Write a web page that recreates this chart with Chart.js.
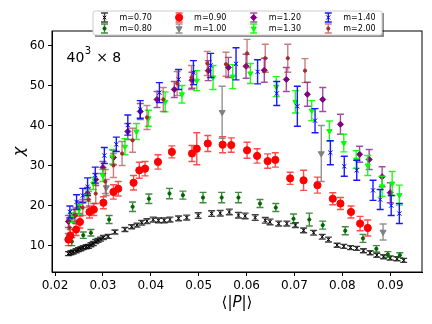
<!DOCTYPE html>
<html>
<head>
<meta charset="utf-8">
<script src="https://cdn.jsdelivr.net/npm/chart.js@4.4.1/dist/chart.umd.min.js"></script>
<style>
  html, body { margin: 0; padding: 0; background: #fff; }
  #wrap { width: 432px; height: 324px; position: relative; }
</style>
</head>
<body>
<div id="wrap"><canvas id="myChart" width="432" height="324"></canvas></div>
<script>
// values: <|P|> on x, chi on y, error half-height
const labels = ['m=0.70', 'm=0.80', 'm=0.90', 'm=1.00', 'm=1.20', 'm=1.30', 'm=1.40', 'm=2.00'];

const p070 = [0.0228,0.0233,0.0238,0.0244,0.0249,0.0254,0.0259,0.0265,0.0270,0.0275,0.0280,0.0285,0.0290,0.0295,0.0301,0.0311,0.0325,0.0346,0.0360,0.0371,0.0381,0.0392,0.0405,0.0416,0.0428,0.0440,0.0458,0.0475,0.0499,0.0527,0.0545,0.0564,0.0583,0.0597,0.0618,0.0639,0.0649,0.0667,0.0684,0.0702,0.0719,0.0740,0.0758,0.0771,0.0789,0.0803,0.0817,0.0830,0.0844,0.0858,0.0872,0.0886,0.0900,0.0914,0.0928];
const chi070 = [8.0,8.2,8.4,8.7,9.0,9.2,9.5,9.7,9.8,10.2,10.5,11.0,11.3,11.6,12.0,12.3,13.4,14.0,14.7,15.1,15.7,16.1,16.5,16.3,16.3,16.5,16.8,17.0,17.5,18.0,18.1,18.4,17.6,17.4,17.0,16.3,15.9,15.5,15.5,15.1,13.8,13.2,12.2,11.5,10.1,9.8,9.5,9.3,8.7,8.2,7.6,7.2,6.9,6.7,6.3];
const err070 = [0.5,0.5,0.5,0.5,0.5,0.5,0.5,0.5,0.5,0.5,0.5,0.5,0.5,0.5,0.5,0.5,0.5,0.5,0.5,0.5,0.6,0.6,0.6,0.6,0.6,0.6,0.6,0.6,0.7,0.7,0.7,0.7,0.7,0.7,0.7,0.7,0.7,0.6,0.6,0.6,0.6,0.6,0.6,0.6,0.5,0.5,0.5,0.5,0.5,0.5,0.5,0.5,0.5,0.5,0.5];

const p080 = [0.0235,0.0259,0.0275,0.0313,0.0362,0.0396,0.0439,0.0467,0.0509,0.0548,0.0583,0.0628,0.0661,0.0698,0.0731,0.0759,0.0806,0.0843,0.0871,0.0895,0.0920];
const chi080 = [11.0,12.6,13.2,16.5,19.7,21.7,23.0,22.6,22.0,22.0,22.0,20.5,19.5,16.7,16.5,15.1,13.7,11.8,9.2,7.8,7.6];
const err080 = [1.0,0.8,0.8,1.0,1.2,1.2,1.3,1.0,1.3,1.3,1.3,1.0,1.0,1.2,1.6,1.0,1.0,1.0,0.8,0.7,0.6];

const p090 = [0.0228,0.0232,0.0244,0.0252,0.0272,0.0281,0.0301,0.0322,0.0332,0.0364,0.0376,0.0388,0.0415,0.0444,0.0486,0.0496,0.0519,0.0550,0.0568,0.0601,0.0622,0.0644,0.0660,0.0691,0.0719,0.0748,0.0780,0.0796,0.0818,0.0837,0.0853];
const chi090 = [11.5,12.5,14.0,15.9,18.4,19.0,20.7,23.4,24.2,25.7,28.8,29.2,30.9,33.4,33.0,34.2,35.5,35.2,35.1,33.8,32.4,31.1,31.4,26.8,26.3,25.1,21.7,20.5,18.4,15.5,14.4];
const err090 = [1.5,1.5,1.5,1.5,1.5,1.5,1.5,1.8,1.8,1.8,2.0,1.8,1.8,1.5,2.0,4.0,2.0,2.0,1.8,2.0,1.8,1.8,1.8,1.5,2.5,2.0,1.5,1.5,1.5,1.8,2.0];

const p100 = [0.0307,0.0549,0.0756,0.0885];
const chi100 = [24.5,43.3,33.0,13.4];
const err100 = [2.0,6.5,7.0,2.0];

const p120 = [0.0228,0.0240,0.0250,0.0268,0.0285,0.0300,0.0322,0.0352,0.0378,0.0413,0.0449,0.0486,0.0520,0.0562,0.0599,0.0637,0.0683,0.0727,0.0759,0.0796,0.0836,0.0856,0.0883,0.0900];
const chi120 = [16.0,17.5,19.5,23.0,26.5,29.5,32.0,38.5,43.5,46.5,49.0,51.3,53.7,54.5,54.8,53.8,51.5,47.8,46.5,40.3,32.8,31.5,27.2,23.2];
const err120 = [1.5,1.5,1.5,1.5,1.5,1.5,1.8,2.0,2.0,2.0,2.0,2.0,2.5,2.5,3.0,3.0,3.0,3.0,3.0,2.5,2.0,2.5,2.5,2.5];

const p130 = [0.0235,0.0250,0.0268,0.0280,0.0300,0.0320,0.0346,0.0370,0.0395,0.0430,0.0465,0.0496,0.0530,0.0571,0.0608,0.0662,0.0702,0.0736,0.0773,0.0803,0.0829,0.0853,0.0883,0.0904,0.0919];
const chi130 = [17.0,19.0,22.5,25.5,27.5,32.2,34.7,38.5,41.8,45.9,47.8,51.2,52.0,52.2,53.0,49.7,45.9,43.7,38.6,35.6,31.5,30.0,24.8,25.5,22.6];
const err130 = [1.2,1.2,1.5,1.5,1.5,1.8,2.0,2.0,2.0,2.5,2.2,2.5,3.0,3.0,2.5,2.5,2.8,2.5,2.5,2.2,2.2,2.5,2.5,3.0,2.5];

const p140 = [0.0231,0.0245,0.0258,0.0268,0.0284,0.0303,0.0328,0.0352,0.0378,0.0418,0.0458,0.0489,0.0525,0.0578,0.0623,0.0663,0.0706,0.0743,0.0775,0.0804,0.0830,0.0864,0.0879,0.0902,0.0919];
const chi140 = [18.4,20.9,22.5,24.7,27.6,32.5,35.3,40.1,44.0,48.2,51.5,53.2,55.0,55.4,53.4,48.0,44.8,41.2,33.2,29.8,28.8,23.8,21.5,20.0,18.0];
const err140 = [1.5,1.8,1.8,2.2,2.0,2.0,1.8,2.5,2.2,2.5,2.5,3.0,3.0,4.0,3.0,3.0,5.0,3.0,3.0,2.5,2.5,2.5,2.5,2.5,2.5];

const p200 = [0.0230,0.0243,0.0258,0.0270,0.0285,0.0305,0.0322,0.0340,0.0362,0.0392,0.0426,0.0455,0.0485,0.0518,0.0557,0.0601,0.0639,0.0686,0.0722];
const chi200 = [14.5,17.5,19.5,21.5,23.0,26.0,30.0,33.0,36.3,42.0,46.5,50.5,52.0,55.5,55.3,58.0,56.8,56.8,53.7];
const err200 = [2.0,2.0,2.0,2.0,2.5,3.0,3.0,3.0,3.0,3.0,3.0,3.0,3.0,3.0,3.0,3.5,3.5,3.5,3.0];

const xTicks = [0.02, 0.03, 0.04, 0.05, 0.06, 0.07, 0.08, 0.09];
const yTicks = [10, 20, 30, 40, 50, 60];

Chart.defaults.font.family = 'DejaVu Sans';
Chart.defaults.color = '#000';

function series(label, xs, ys, errs, color, barColor, style, radius, rotation) {
    return {
        label: label,
        data: xs.map((x, i) => ({x: x, y: ys[i]})),
        errors: errs,
        barColor: barColor,
        backgroundColor: color,
        borderColor: color,
        pointStyle: style,
        pointRadius: radius,
        pointRotation: rotation || 0,
        pointBorderWidth: 1,
        showLine: false
    };
}

let datasets = [
    series(labels[0], p070, chi070, err070, '#000000', 'rgba(0,0,0,0.75)', 'crossRot', 2.5),
    series(labels[1], p080, chi080, err080, '#006400', 'rgba(0,100,0,0.75)', 'circle', 1.6),
    series(labels[2], p090, chi090, err090, '#ff0000', 'rgba(255,0,0,0.7)', 'circle', 3.6),
    series(labels[3], p100, chi100, err100, '#808080', 'rgba(128,128,128,0.85)', 'triangle', 3.5, 180),
    series(labels[4], p120, chi120, err120, '#800080', 'rgba(128,0,128,0.7)', 'rectRot', 3),
    series(labels[5], p130, chi130, err130, '#00ff00', 'rgba(0,255,0,0.9)', 'triangle', 3, 180),
    series(labels[6], p140, chi140, err140, '#0000ff', 'rgba(0,0,255,0.9)', 'crossRot', 3),
    series(labels[7], p200, chi200, err200, '#a52a2a', 'rgba(165,42,42,0.6)', 'circle', 1.6)
];
// later series on top, like matplotlib
datasets.forEach((d, i) => d.order = -i);

function drawBar(ctx, x, yTop, yBot, cap) {
    ctx.beginPath();
    ctx.moveTo(x, yTop); ctx.lineTo(x, yBot);
    ctx.moveTo(x - cap, yTop); ctx.lineTo(x + cap, yTop);
    ctx.moveTo(x - cap, yBot); ctx.lineTo(x + cap, yBot);
    ctx.stroke();
}

const errorBars = {
    id: 'errorBars',
    beforeDatasetDraw(chart, args) {
        const ds = chart.data.datasets[args.index];
        const xs = chart.scales.x, ys = chart.scales.y;
        const ctx = chart.ctx;
        const a = chart.chartArea;
        ctx.save();
        ctx.beginPath();
        ctx.rect(a.left, a.top, a.right - a.left, a.bottom - a.top);
        ctx.clip();
        ctx.strokeStyle = ds.barColor;
        ctx.lineWidth = 1.4;
        ds.data.forEach((pt, i) => {
            const px = xs.getPixelForValue(pt.x);
            drawBar(ctx, px, ys.getPixelForValue(pt.y + ds.errors[i]), ys.getPixelForValue(pt.y - ds.errors[i]), 3.5);
        });
        ctx.restore();
    }
};

const frameAndText = {
    id: 'frameAndText',
    beforeDatasetsDraw(chart) {
        const ctx = chart.ctx, a = chart.chartArea;
        ctx.save();
        ctx.strokeStyle = '#000';
        ctx.lineWidth = 1;
        ctx.strokeRect(a.left, a.top, a.right - a.left, a.bottom - a.top);
        ctx.restore();
    },
    afterDraw(chart) {
        const ctx = chart.ctx, a = chart.chartArea;
        ctx.save();
        ctx.fillStyle = '#000';
        ctx.textBaseline = 'alphabetic';
        // lattice annotation
        ctx.font = '14px "DejaVu Sans"';
        ctx.fillText('40', 66.5, 61.5);
        let w = ctx.measureText('40').width;
        ctx.font = '10px "DejaVu Sans"';
        ctx.fillText('3', 66.5 + w + 0.5, 54);
        let w3 = ctx.measureText('3').width;
        ctx.font = '14px "DejaVu Sans"';
        ctx.fillText(' \u00d7 8', 66.5 + w + w3 + 1, 61.5);

        // axis titles
        ctx.textAlign = 'center';
        ctx.font = '15px "DejaVu Sans"';
        const cx = (a.left + a.right) / 2;
        const parts = [['\u27e8|', '15px "DejaVu Sans"'], ['P', 'italic 15px "DejaVu Sans"'], ['|\u27e9', '15px "DejaVu Sans"']];
        let total = 0;
        parts.forEach(p => { ctx.font = p[1]; total += ctx.measureText(p[0]).width; });
        let x0 = cx - total / 2;
        ctx.textAlign = 'left';
        parts.forEach(p => { ctx.font = p[1]; ctx.fillText(p[0], x0, 307); x0 += ctx.measureText(p[0]).width; });

        ctx.translate(24, (a.top + a.bottom) / 2);
        ctx.rotate(-Math.PI / 2);
        ctx.textAlign = 'center';
        ctx.font = 'italic 16px "DejaVu Sans"';
        ctx.fillText('\u03c7', 0, 0);
        ctx.restore();

        // legend, 4 columns filled column by column
        ctx.save();
        const bx = 93, by = 11, bw = 289, bh = 24;
        ctx.fillStyle = 'rgba(0,0,0,0.45)';
        ctx.fillRect(bx + 2, by + 2, bw, bh);
        ctx.fillStyle = '#fff';
        ctx.strokeStyle = '#cccccc';
        ctx.lineWidth = 1;
        ctx.beginPath();
        ctx.roundRect(bx, by, bw, bh, 2);
        ctx.fill();
        ctx.stroke();
        ctx.font = '8px "DejaVu Sans"';
        ctx.textBaseline = 'middle';
        ctx.textAlign = 'left';
        chart.data.datasets.forEach((ds, i) => {
            const col = Math.floor(i / 2), row = i % 2;
            const mx = 104.5 + col * 74.6, my = 17.5 + row * 11;
            ctx.strokeStyle = ds.barColor;
            ctx.lineWidth = 1.4;
            drawBar(ctx, mx, my - 4.5, my + 4.5, 3.5);
            ctx.fillStyle = ds.backgroundColor;
            ctx.strokeStyle = ds.borderColor;
            ctx.lineWidth = 1;
            Chart.helpers.drawPoint(ctx, {pointStyle: ds.pointStyle, radius: ds.pointRadius, rotation: ds.pointRotation, borderWidth: 1}, mx, my);
            ctx.fillStyle = '#000';
            ctx.fillText(ds.label, mx + 15, my + 0.5);
        });
        ctx.restore();
    }
};

new Chart(document.getElementById('myChart'), {
    type: 'scatter',
    data: { datasets: datasets },
    options: {
        responsive: false,
        animation: false,
        layout: { padding: { left: 0, right: 10, top: 31, bottom: 0 } },
        plugins: { legend: { display: false }, tooltip: { enabled: false } },
        scales: {
            x: {
                type: 'linear',
                min: 0.01937,
                max: 0.09663,
                afterFit: s => { s.height = 52; },
                afterBuildTicks: s => { s.ticks = xTicks.map(v => ({value: v})); },
                ticks: { font: { size: 12 }, padding: 3, callback: v => v.toFixed(2), maxRotation: 0 },
                grid: { drawOnChartArea: false, drawTicks: true, tickLength: 4, color: '#000' },
                border: { display: true, color: '#000' }
            },
            y: {
                type: 'linear',
                min: 3.4,
                max: 63.6,
                afterFit: s => { s.width = 52; },
                afterBuildTicks: s => { s.ticks = yTicks.map(v => ({value: v})); },
                ticks: { font: { size: 12 }, padding: 3, callback: v => String(v) },
                grid: { drawOnChartArea: false, drawTicks: true, tickLength: 4, color: '#000' },
                border: { display: true, color: '#000' }
            }
        }
    },
    plugins: [errorBars, frameAndText]
});
</script>
</body>
</html>
